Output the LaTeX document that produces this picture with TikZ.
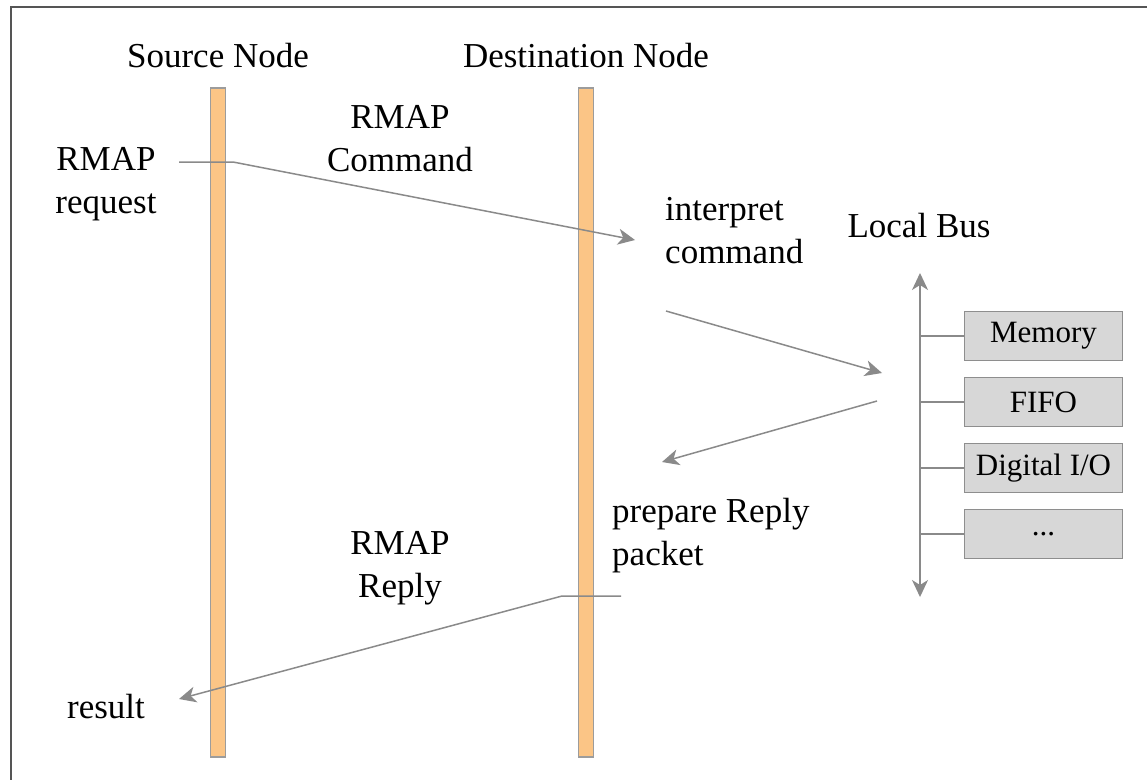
\documentclass[tikz,border=0pt]{standalone}
\usepackage{fontspec}
\setmainfont{Liberation Serif}
\usetikzlibrary{arrows.meta}
\definecolor{barfill}{HTML}{FBC586}
\definecolor{barline}{HTML}{9C9C9C}
\definecolor{boxfill}{HTML}{D7D7D7}
\definecolor{boxline}{HTML}{8E8E8E}
\definecolor{wire}{HTML}{8A8A8A}
\definecolor{frameline}{HTML}{555555}
\begin{document}
\begin{tikzpicture}[x=1pt,y=-1pt,
  lifeline/.style={draw=barline,fill=barfill,line width=1.5pt,minimum width=15pt,minimum height=669pt,inner sep=0pt},
  label/.style={font=\fontsize{35}{43}\selectfont,inner sep=0pt,align=center},
  leftlabel/.style={font=\fontsize{35}{43}\selectfont,inner sep=0pt,align=left},
  device/.style={draw=boxline,fill=boxfill,line width=1.5pt,minimum width=158pt,minimum height=49pt,inner sep=0pt,font=\fontsize{31}{36}\selectfont},
  tip/.style={Stealth[length=17pt,width=16pt,inset=5pt]},
  msg/.style={draw=wire,line width=1.5pt,-{Stealth[length=17pt,width=16pt,inset=5pt]}},
  link/.style={draw=wire,line width=1.5pt}]
\useasboundingbox (0,0) rectangle (1147,779);
% outer frame
\draw[frameline,line width=2pt] (11,800) -- (11,7) -- (1160,7);

% lifelines
\node[lifeline] (src) at (218,422.5) {};
\node[lifeline] (dst) at (586,422.5) {};
\node[label,anchor=base] (srcname) at (218,67) {Source Node};
\node[label,anchor=base] (dstname) at (586,67) {Destination Node};

% labels (base anchor sits on the last line)
\node[label,anchor=base] (request) at (106,213) {RMAP\\request};
\node[label,anchor=base] (command) at (400,171) {RMAP\\Command};
\node[leftlabel,anchor=base west] (interpret) at (665,263) {interpret\\command};
\node[label,anchor=base] (bus) at (919,237) {Local Bus};
\node[leftlabel,anchor=base west] (prepare) at (612,565) {prepare Reply\\packet};
\node[label,anchor=base] (reply) at (400,597) {RMAP\\Reply};
\node[label,anchor=base] (result) at (106,718) {result};

% message path end points
\coordinate (reqstart) at (179,162);
\coordinate (reqbend) at (233,162);
\coordinate (cmdtip) at (635,240);
\coordinate (accstart) at (666,311);
\coordinate (acctip) at (882,373);
\coordinate (retstart) at (877,401);
\coordinate (rettip) at (662,462);
\coordinate (repstart) at (621,596);
\coordinate (repbend) at (562,596);
\coordinate (reptip) at (179,699);

\draw[msg] (reqstart) -- (reqbend) -- (cmdtip);
\draw[msg] (accstart) -- (acctip);
\draw[msg] (retstart) -- (rettip);
\draw[msg] (repstart) -- (repbend) -- (reptip);

% local bus with attached devices
\coordinate (bustop) at (920,273);
\coordinate (busbot) at (920,597);
\draw[link,{Stealth[length=17pt,width=16pt,inset=5pt]}-{Stealth[length=17pt,width=16pt,inset=5pt]}] (bustop) -- (busbot);

\node[device] (mem) at (1043.5,336) {Memory};
\node[device] (fifo) at (1043.5,402) {FIFO};
\node[device] (dio) at (1043.5,468) {Digital I/O};
\node[device] (more) at (1043.5,534) {...};

\foreach \d in {mem,fifo,dio,more}
  \draw[link] (\d.west -| bustop) -- (\d.west);
\end{tikzpicture}
\end{document}
